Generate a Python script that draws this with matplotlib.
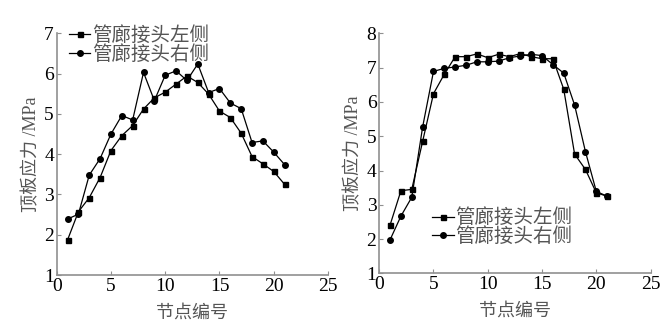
import matplotlib
matplotlib.use('Agg')
import matplotlib.pyplot as plt

plt.rcParams['font.family'] = ['Liberation Serif', 'Noto Sans CJK SC']
plt.rcParams['font.size'] = 14

nodes = list(range(1, 22))

# left chart
left_a = [1.87, 2.57, 2.92, 3.42, 4.09, 4.46, 4.71, 5.12, 5.40, 5.54, 5.74,
          5.94, 5.78, 5.49, 5.07, 4.91, 4.52, 3.94, 3.76, 3.57, 3.25]
left_b = [2.39, 2.51, 3.48, 3.89, 4.50, 4.96, 4.85, 6.03, 5.33, 5.96, 6.07,
          5.83, 6.24, 5.53, 5.63, 5.27, 5.13, 4.29, 4.33, 4.05, 3.74]

# right chart
right_a = [2.41, 3.41, 3.45, 4.85, 6.24, 6.81, 7.32, 7.32, 7.40, 7.29, 7.39,
           7.32, 7.41, 7.32, 7.26, 7.26, 6.37, 4.48, 4.03, 3.35, 3.25]
right_b = [1.98, 2.67, 3.22, 5.27, 6.89, 6.98, 7.02, 7.07, 7.17, 7.17, 7.19,
           7.29, 7.34, 7.39, 7.35, 7.09, 6.84, 5.91, 4.55, 3.39, 3.25]

names = ['管廊接头左侧', '管廊接头右侧']
xlabel = '节点编号'
ylabel = '顶板应力 /MPa'
label_color = '#555555'
spine_color = '#909090'

fig = plt.figure(figsize=(6.7, 3.27), dpi=100)
ax1 = fig.add_axes([0.0846, 0.159, 0.405, 0.739])
ax2 = fig.add_axes([0.566, 0.164, 0.405, 0.734])


def draw(ax, a, b, ymax, legend_pos):
    ax.plot(nodes, a, color='black', lw=0.9, marker='s', ms=3.6, label=names[0])
    ax.plot(nodes, b, color='black', lw=0.9, marker='o', ms=4, label=names[1])
    ax.set_xlim(0, 25)
    ax.set_ylim(1, ymax)
    ax.set_xticks(range(0, 26, 5))
    ax.set_yticks(range(1, ymax + 1))
    for s in ['top', 'right']:
        ax.spines[s].set_visible(False)
    for s in ['left', 'bottom']:
        ax.spines[s].set_color(spine_color)
        ax.spines[s].set_linewidth(1.2)
    ax.tick_params(direction='in', length=3, color=spine_color, labelcolor='black', pad=2)
    ax.set_xlabel(xlabel, color=label_color, fontsize=13, labelpad=7)
    ax.set_ylabel(ylabel, color=label_color, fontsize=13, labelpad=3)
    leg = ax.legend(loc='upper left', bbox_to_anchor=legend_pos, frameon=False,
                    handlelength=1.1, handletextpad=0.1, labelspacing=0.0,
                    borderpad=0, borderaxespad=0, fontsize=14)
    for t in leg.get_texts():
        t.set_color(label_color)


draw(ax1, left_a, left_b, 7, (0.045, 1.03))
draw(ax2, right_a, right_b, 8, (0.195, 0.27))

fig.savefig('out.png', dpi=100)
